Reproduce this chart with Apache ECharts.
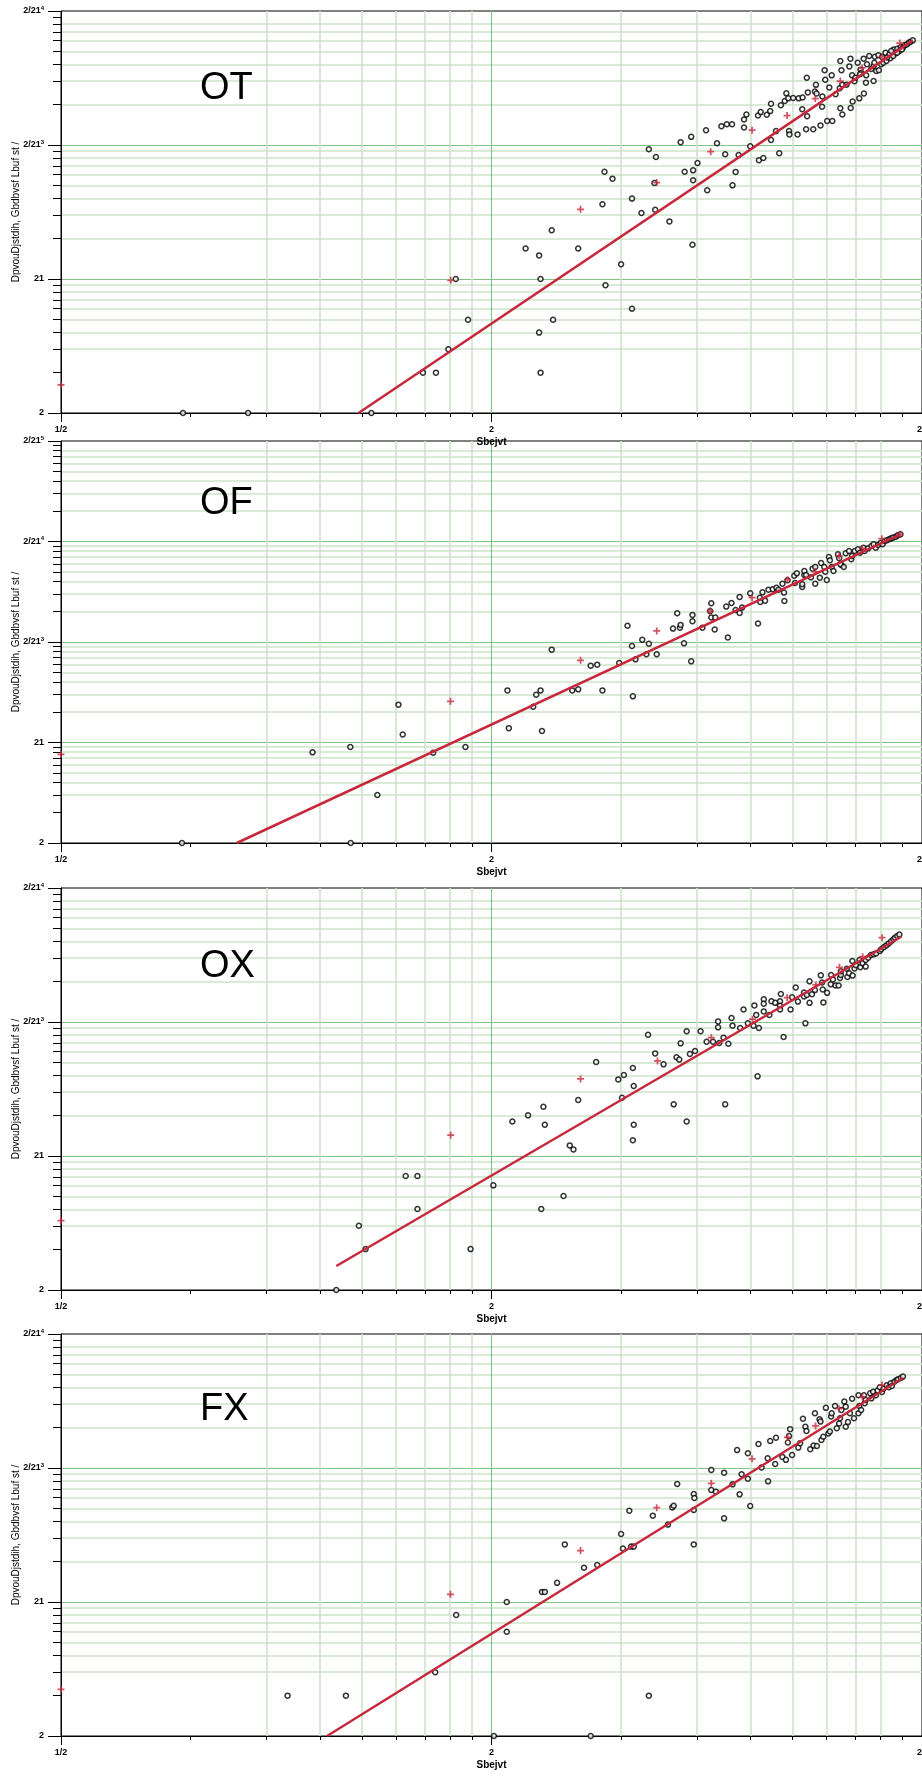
<!DOCTYPE html>
<html><head><meta charset="utf-8">
<script src="https://cdn.jsdelivr.net/npm/echarts@6/dist/echarts.min.js"></script>
<style>html,body{margin:0;padding:0;background:#fff}#c{width:922px;height:1776px}</style>
</head><body><div id="c"></div>
<script>
// ---------- tick labels ----------
const xTickValues = [0.1, 1, 10];
const xTickLabels = ['1/2', '2', '21'];
const yTickValues = [1, 10, 100, 1000, 10000];
const yTickBase = ['2', '21', '2/21', '2/21', '2/21'];
const yTickSup = ['', '', '3', '4', '5'];
const panelNames = ['OT', 'OF', 'OX', 'FX'];
const panelYMax = [1000, 10000, 1000, 1000];
const xName = 'Sbejvt';
const yName = 'DpvouDjstdih, Gbdbvsf Lbuf st /';

// ---------- OT ----------
const otX = [0.192,0.272,0.526,0.693,0.743,0.794,0.882,0.826,1.30,1.29,1.39,1.30,1.20,1.29,1.38,1.59,1.81,1.83,1.91,1.84,2.00,2.12,2.12,2.23,2.32,2.41,2.39,2.40,2.59,2.75,2.91,2.81,2.94,3.01,2.94,2.93,3.15,3.17,3.34,3.42,3.52,3.62,3.49,3.75,3.69,3.63,3.86,3.91,3.86,3.99,4.18,4.28,4.16,4.22,4.36,4.44,4.46,4.46,4.58,4.66,4.70,4.80,4.84,4.91,4.92,4.89,5.02,5.14,5.17,5.28,5.27,5.43,5.40,5.41,5.38,5.59,5.64,5.69,5.67,5.81,5.86,5.94,5.96,5.87,6.02,6.19,6.09,6.17,6.30,6.46,6.50,6.46,6.53,6.44,6.53,6.68,6.78,6.82,6.83,6.90,6.88,6.97,7.00,7.09,7.15,7.20,7.22,7.33,7.32,7.41,7.45,7.42,7.18,7.54,7.62,7.72,7.77,7.72,7.75,7.83,7.94,7.92,8.04,8.08,8.13,8.23,8.27,8.40,8.44,8.60,8.66,8.76,8.86,8.93,9.03,9.13,9.22,9.32,9.41,9.52,8.57,8.30,8.48,8.76,8.98];
const otY = [1,1,1,2.0,2.0,2.99,4.97,10.0,2.0,3.98,4.97,10.0,16.9,15.0,23.1,16.9,36.1,63.2,56.1,8.97,12.9,6.0,39.8,31.1,92.9,81.3,52,32.9,26.9,105,115,63.2,64.7,73.4,54.5,18.0,129,45.9,103,138,143,143,85.2,84.2,63,50,155,169,135,98,76.9,80,166,176,168,179,203,109,127,86.7,198,213,243,127,120,223,224,120,223,226,185,247,318,164,131,131,251,242,281,140,193,361,307,230,151,151,269,331,239,423,361,188,169,265,282,282,386,441,189,211,331,299,318,411,223,365,344,242,441,292,400,331,338,461,369,300,456,389,411,357,361,467,400,454,411,489,423,475,444,517,481,523,503,538,532,557,563,581,590,604,461,450,503,489,517];
const otCrossX = [0.1,0.804,1.61,2.42,3.23,4.03,4.86,5.65,6.46,7.26,8.07,8.88];
const otCrossY = [1.62,9.78,33.1,52.4,89.2,129,166,222,300,376,456,577];
const otFitX = [0.491, 9.52];
const otFitY = [1, 604];

// ---------- OF ----------
const ofX = [0.191,0.471,0.384,0.47,0.543,0.608,0.622,0.732,0.870,1.089,1.097,1.27,1.30,1.25,1.31,1.38,1.54,1.59,1.70,1.76,1.81,1.98,2.07,2.12,2.13,2.16,2.24,2.32,2.29,2.42,2.64,2.70,2.74,2.75,2.80,2.91,2.93,2.93,3.09,3.24,3.22,3.24,3.31,3.30,3.54,3.51,3.61,3.69,3.77,3.77,3.82,3.99,4.16,4.20,4.21,4.26,4.32,4.40,4.50,4.59,4.64,4.74,4.78,4.79,4.87,5.05,5.12,5.07,5.27,5.33,5.33,5.27,5.38,5.52,5.57,5.65,5.65,5.79,5.83,5.93,6.01,5.96,6.08,6.11,6.17,6.23,6.38,6.42,6.50,6.46,6.58,6.65,6.77,6.85,6.88,6.98,7.10,7.18,7.31,7.36,7.50,7.63,7.72,7.81,7.91,8.02,8.10,8.20,8.29,8.40,8.49,8.57,8.70,8.78,8.91];
const ofY = [1,1,7.98,9.02,3.0,23.8,12.0,7.92,9.02,33.0,13.9,29.9,33,22.7,13.0,83.9,33,33.8,58.2,59.5,33,61.8,145,91.2,28.8,67.2,105,96.2,75.4,75.4,136,193,139,148,97,64.2,186,161,139,243,203,175,175,133,111,225,244,208,194,281,220,305,153,276,250,312,258,332,334,347,331,380,310,256,411,457,482,386,352,464,509,375,464,440,537,557,380,437,611,557,414,501,701,650,557,509,745,681,584,595,557,763,804,665,718,804,836,774,869,804,855,902,938,869,923,973,938,1012,1028,1057,1076,1093,1117,1151,1178];
const ofCrossX = [0.1,0.803,1.61,2.42,3.22,4.03,4.87,5.66,6.42,7.27,8.07,8.88];
const ofCrossY = [7.6,25.7,65.7,129,203,276,417,500,718,850,1067,1180];
const ofFitX = [0.256, 8.91];
const ofFitY = [1, 1178];

// ---------- OX ----------
const oxX = [0.436,0.492,0.510,0.632,0.673,0.673,0.894,1.01,1.118,1.216,1.32,1.33,1.305,1.47,1.52,1.55,1.59,1.75,1.97,2.01,2.03,2.13,2.14,2.14,2.13,2.31,2.40,2.51,2.65,2.69,2.73,2.75,2.84,2.84,2.89,2.97,3.06,3.16,3.27,3.36,3.36,3.38,3.46,3.49,3.55,3.61,3.63,3.78,3.85,3.94,4.06,4.08,4.12,4.15,4.18,4.29,4.29,4.29,4.42,4.47,4.56,4.68,4.68,4.68,4.70,4.77,4.95,4.99,5.09,5.15,5.32,5.32,5.36,5.40,5.48,5.48,5.55,5.64,5.82,5.86,5.88,5.90,6.02,6.14,6.15,6.21,6.30,6.40,6.45,6.48,6.48,6.69,6.71,6.77,6.89,6.90,6.97,7.02,7.16,7.19,7.28,7.40,7.40,7.50,7.61,7.72,7.82,7.98,8.04,8.15,8.26,8.37,8.48,8.58,8.66,8.76,8.86];
const oxY = [1,3.02,2.02,7.09,7.09,4.02,2.02,6.04,18.1,20.1,23.3,17.1,4.02,5.03,12.0,11.2,26.2,50.3,37.3,27.2,40.2,45.4,33.3,17.1,13.1,80.4,58.3,48.3,24.3,54.5,52.4,69.3,85.2,18.1,57.7,60.8,85.2,71.3,71.3,101,91.2,69.7,76.4,24.3,68.9,107,93.9,90.2,124,97.7,93.9,133,113,39.3,90.2,148,137,120,113,143,139,143,132,124,162,77.3,124,153,181,142,166,155,97.7,159,201,139,161,173,223,197,175,140,165,191,224,208,187,187,213,224,239,250,217,231,285,222,251,265,290,256,274,259,290,302,316,320,325,339,349,361,373,386,400,414,426,438,449];
const oxCrossX = [0.1,0.804,1.61,2.43,3.24,4.04,4.86,5.67,6.43,7.28,8.08];
const oxCrossY = [3.3,14.3,37.6,51.2,76.4,105,152,189,256,307,426];
const oxFitX = [0.436, 8.95];
const oxFitY = [1.51, 433];

// ---------- FX ----------
const fxX = [0.336,0.459,0.740,0.828,1.013,1.085,1.085,1.31,1.33,1.42,1.48,1.64,1.70,1.76,2.00,2.02,2.11,2.14,2.09,2.32,2.37,2.57,2.63,2.65,2.70,2.95,2.95,2.96,2.95,3.24,3.24,3.32,3.47,3.47,3.63,3.77,3.72,3.81,3.94,3.94,3.99,4.17,4.24,4.38,4.39,4.44,4.56,4.58,4.74,4.83,4.88,4.91,4.94,4.99,5.16,5.21,5.29,5.36,5.39,5.50,5.60,5.64,5.70,5.78,5.81,5.84,5.90,5.98,6.06,6.11,6.15,6.17,6.28,6.34,6.42,6.45,6.50,6.60,6.65,6.65,6.73,6.80,6.88,6.95,7.12,7.12,7.15,7.22,7.33,7.36,7.40,7.58,7.63,7.70,7.82,7.89,7.98,8.07,8.14,8.28,8.38,8.46,8.51,8.63,8.73,8.80,8.93,9.03];
const fxY = [2.0,2.0,2.99,8.0,1,6.0,10.0,11.9,11.9,13.9,26.9,18.0,1,18.9,32.2,25.1,25.9,25.9,48.0,2.0,44.1,37.8,50.8,52.3,76.0,48.6,64.0,59.7,26.9,96.6,68.5,66.6,92.3,42.1,75.5,63.6,136,89.7,83.2,129,52.0,151,101,118,79.5,159,107,168,121,115,155,173,195,125,142,153,233,203,189,138,147,256,146,231,222,162,171,281,181,187,242,256,290,198,215,235,271,313,287,203,220,256,329,235,349,256,290,271,349,304,322,361,331,371,349,378,400,369,391,414,400,429,409,441,454,459,470,481];
const fxCrossX = [0.1,0.803,1.61,2.42,3.24,4.03,4.87,5.66,6.41,7.27,8.07];
const fxCrossY = [2.23,11.4,24.2,50.6,76.9,117,169,206,277,340,416];
const fxFitX = [0.415, 9.03];
const fxFitY = [1, 470];

// ---------- layout & style ----------
const FONT = '"Liberation Sans", Arial, Helvetica, sans-serif';
const GRID_TOPS = [11, 441, 888, 1334];
const TITLE_TOPS = [70, 485, 948, 1391];
const GREEN_MINOR = '#cde4ca';
const GREEN_MAJOR = '#86c386';
const RED = '#c8283c';
const CROSS = 'path://M-1,-4H1V-1H4V1H1V4H-1V1H-4V-1H-1Z';

const panels = [
  {xs: otX, ys: otY, cx: otCrossX, cy: otCrossY, fx: otFitX, fy: otFitY},
  {xs: ofX, ys: ofY, cx: ofCrossX, cy: ofCrossY, fx: ofFitX, fy: ofFitY},
  {xs: oxX, ys: oxY, cx: oxCrossX, cy: oxCrossY, fx: oxFitX, fy: oxFitY},
  {xs: fxX, ys: fxY, cx: fxCrossX, cy: fxCrossY, fx: fxFitX, fy: fxFitY}
];

function pairs(a, b) { return a.map((v, i) => [v, b[i]]); }
function decade(v) { return Math.round(Math.log10(v)); }

const xMinor = [];
[0.1, 1].forEach(d => { for (let m = 2; m <= 9; m++) xMinor.push(+(m * d).toFixed(3)); });

const grids = [], xAxes = [], yAxes = [], series = [], titles = [];

panels.forEach((p, i) => {
  const yMax = panelYMax[i];
  const yMinor = [];
  for (let d = 1; d < yMax; d *= 10) for (let m = 2; m <= 9; m++) yMinor.push(m * d);
  const yMajor = yTickValues.filter(v => v <= yMax);

  grids.push({left: 61, top: GRID_TOPS[i], width: 861, height: 402, show: true,
    borderColor: '#000', borderWidth: 1, backgroundColor: 'transparent',
    containLabel: false, outerBoundsMode: 'none'});

  xAxes.push({
    gridIndex: i, type: 'log', logBase: 10, min: 0.1, max: 10, position: 'bottom',
    name: xName, nameLocation: 'middle', nameGap: 24, nameMoveOverlap: false,
    nameTextStyle: {fontSize: 10, fontWeight: 'bold', color: '#000', fontFamily: FONT},
    axisLine: {show: true, onZero: false, lineStyle: {color: '#000', width: 1}},
    axisTick: {show: true, inside: false, length: 4, customValues: xMinor, lineStyle: {color: '#000', width: 1}},
    axisLabel: {show: true, customValues: xTickValues, margin: 12, fontSize: 9, fontWeight: 'bold', color: '#000', fontFamily: FONT,
      hideOverlap: false, formatter: v => xTickLabels[decade(v) + 1]},
    splitLine: {show: true, showMinLine: false, showMaxLine: false, lineStyle: {color: GREEN_MINOR, width: 1.6}},
    minorTick: {show: false}, minorSplitLine: {show: false}
  });
  xAxes.push({
    gridIndex: i, type: 'log', logBase: 10, min: 0.1, max: 10, position: 'bottom',
    axisLine: {show: false, onZero: false},
    axisTick: {show: true, inside: false, length: 9, customValues: xTickValues, lineStyle: {color: '#000', width: 1}},
    axisLabel: {show: false},
    splitLine: {show: true, showMinLine: false, showMaxLine: false, lineStyle: {color: GREEN_MAJOR, width: 1.2}}
  });

  yAxes.push({
    gridIndex: i, type: 'log', logBase: 10, min: 1, max: yMax, position: 'left',
    name: yName, nameLocation: 'middle', nameGap: 40, nameRotate: 90, nameMoveOverlap: false,
    nameTextStyle: {fontSize: 10, color: '#000', fontFamily: FONT},
    axisLine: {show: true, onZero: false, lineStyle: {color: '#000', width: 1}},
    axisTick: {show: true, inside: false, length: 8, customValues: yMinor, lineStyle: {color: '#000', width: 1}},
    axisLabel: {show: true, customValues: yMajor, margin: 17, color: '#000',
      formatter: v => { const k = decade(v); return '{b|' + yTickBase[k] + '}' + (yTickSup[k] ? '{s|' + yTickSup[k] + '}' : ''); },
      rich: {
        b: {fontSize: 9, fontWeight: 'bold', color: '#000', fontFamily: FONT, lineHeight: 12},
        s: {fontSize: 6, fontWeight: 'bold', color: '#000', fontFamily: FONT, lineHeight: 6, verticalAlign: 'top'}
      }},
    splitLine: {show: true, showMinLine: false, showMaxLine: false, lineStyle: {color: GREEN_MINOR, width: 1.6}},
    minorTick: {show: false}, minorSplitLine: {show: false}
  });
  yAxes.push({
    gridIndex: i, type: 'log', logBase: 10, min: 1, max: yMax, position: 'left',
    axisLine: {show: false, onZero: false},
    axisTick: {show: true, inside: false, length: 13, customValues: yMajor, lineStyle: {color: '#000', width: 1}},
    axisLabel: {show: false},
    splitLine: {show: true, showMinLine: false, showMaxLine: false, lineStyle: {color: GREEN_MAJOR, width: 1.2}}
  });

  titles.push({text: panelNames[i], left: 200, top: TITLE_TOPS[i], padding: 0,
    textStyle: {fontSize: 38, fontWeight: 'normal', color: '#000', fontFamily: FONT}});

  series.push({type: 'scatter', xAxisIndex: 2 * i, yAxisIndex: 2 * i, data: pairs(p.xs, p.ys),
    symbol: 'circle', symbolSize: 5, itemStyle: {color: '#fff', borderColor: '#000', borderWidth: 1.5},
    z: 3, emphasis: {disabled: true}});
  series.push({type: 'scatter', xAxisIndex: 2 * i, yAxisIndex: 2 * i, data: pairs(p.cx, p.cy),
    symbol: CROSS, symbolSize: 7, itemStyle: {color: RED}, z: 4, emphasis: {disabled: true}});
  series.push({type: 'line', xAxisIndex: 2 * i, yAxisIndex: 2 * i, data: pairs(p.fx, p.fy),
    showSymbol: false, symbol: 'none', lineStyle: {color: RED, width: 2.5}, z: 5, emphasis: {disabled: true}});
});

const chart = echarts.init(document.getElementById('c'), null, {renderer: 'canvas'});
chart.setOption({
  animation: false,
  backgroundColor: '#fff',
  title: titles,
  grid: grids,
  xAxis: xAxes,
  yAxis: yAxes,
  series: series
});
</script></body></html>
